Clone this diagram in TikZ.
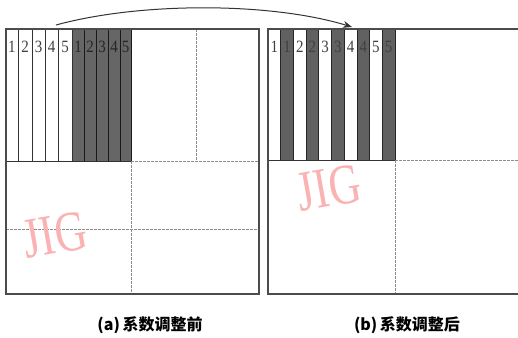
\documentclass[tikz,border=0pt]{standalone}
\usepackage{fontspec}
\setmainfont{Liberation Serif}
\newfontfamily\cjk{Noto Sans CJK SC}
\usetikzlibrary{arrows.meta}
\definecolor{wmpink}{RGB}{250,178,178}
\begin{document}
\begin{tikzpicture}[x=1pt,y=-1pt,
  frame/.style={draw=black!70, line width=1.2pt},
  gridln/.style={draw=black!45, line width=0.8pt, dash pattern=on 3pt off 1pt},
  stripln/.style={draw=black!80, line width=0.9pt},
  darkfill/.style={fill=black!60},
  darkstrip/.style={fill=black!62, draw=black!85, line width=0.8pt},
  num/.style={font=\fontsize{15}{15}\selectfont, text=black!75, inner sep=0pt, yscale=1.15},
  wmark/.style={font=\fontsize{44}{44}\selectfont, text=wmpink, rotate=10, inner sep=0pt, yscale=1.3},
  captxt/.style={font=\cjk\bfseries\fontsize{16}{16}\selectfont, inner sep=0pt}
]
\useasboundingbox (0,0) rectangle (518,337);
\fill[white] (0,0) rectangle (518,337);

% ---------- panel (a) ----------
\fill[darkfill] (72,29) rectangle (131,161);
\foreach \x in {18,32,45,58,72} \draw[stripln] (\x,29) -- (\x,161);
\foreach \x in {84,96,108,120,131} \draw[stripln, draw=black!90] (\x,29) -- (\x,161);
\draw[gridln] (131,161) -- (259,161);
\draw[stripln] (6,161) -- (131,161);
\draw[gridln] (196,29) -- (196,161);
\draw[gridln] (131,161) -- (131,294);
\draw[gridln] (6,229) -- (259,229);
\draw[frame] (6,29) rectangle (259,294);

\foreach \x/\t [count=\i] in {12/1,25/2,38.5/3,51.5/4,65/5}
  \node[num] (la\i) at (\x,47) {\t};
\foreach \x/\t [count=\i] in {78/1,90/2,102/3,114/4,125.5/5}
  \node[num, text=black!85] (lb\i) at (\x,47) {\t};

\node[wmark] (wma) at (55,235) {JIG};

% ---------- panel (b) ----------
\foreach \i in {0,...,4}
  \draw[darkstrip] ({268+12.7*(2*\i+1)},29) rectangle ({268+12.7*(2*\i+2)},160);
\draw[stripln] (268,160) -- (395,160);
\draw[gridln] (395,160) -- (518,160);
\draw[gridln] (395,160) -- (395,294);
\draw[frame] (518,29) -- (268,29) -- (268,294) -- (518,294);

\foreach \t [count=\i from 0] in {1,1,2,2,3,3,4,4,5,5}
  \node[num] (rb\i) at ({268+12.7*(\i+0.5)},47) {\t};

\node[wmark] (wmb) at (329,188) {JIG};

% ---------- arrow ----------
\coordinate (arrA) at (56,25);
\coordinate (arrB) at (352,27);
\draw[black!80, line width=1pt, -{Stealth[length=9pt,width=7pt]}]
  (arrA) .. controls (140,2) and (270,2) .. (arrB);

% ---------- captions ----------
\node[captxt] (capa) at (150,325) {(a)\,系数调整前};
\node[captxt] (capb) at (407,325) {(b)\,系数调整后};
\end{tikzpicture}
\end{document}
